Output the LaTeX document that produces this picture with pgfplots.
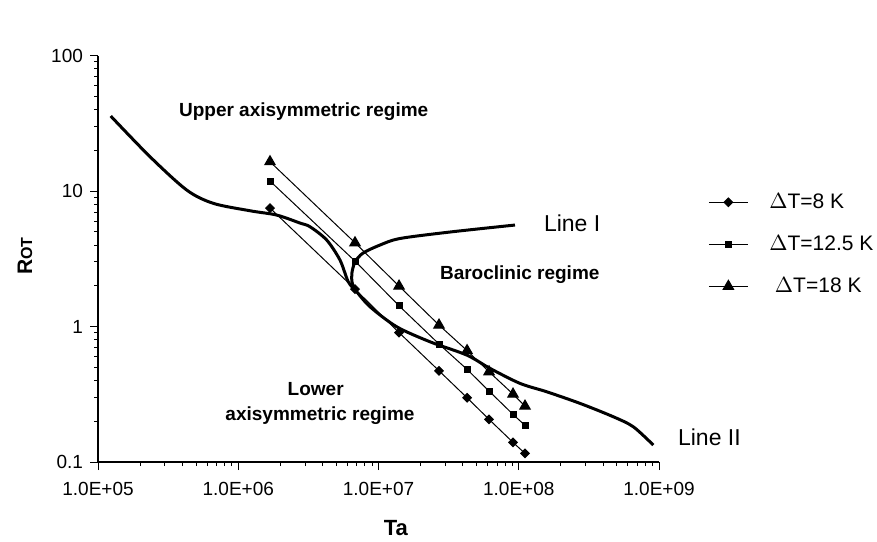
\documentclass[border=0pt]{standalone}
\usepackage{pgfplots}
\pgfplotsset{compat=1.18}
\usepackage{fontspec}
\setmainfont{Liberation Sans}
\begin{document}
\begin{tikzpicture}
\path[use as bounding box] (-49pt,-39.5pt) rectangle (389.5pt,231pt);
\begin{axis}[
 at={(0,0)}, anchor=south west,
 scale only axis, width=280.5pt, height=203.15pt,
 xmode=log, ymode=log,
 xmin=1e5, xmax=1e9, ymin=0.1, ymax=100,
 axis x line=bottom, axis y line=left,
 axis line style={-, line width=0.6pt, black},
 xtick={1e5,1e6,1e7,1e8,1e9},
 xticklabels={1.0E+05,1.0E+06,1.0E+07,1.0E+08,1.0E+09},
 ytick={0.1,1,10,100}, yticklabels={0.1,1,10,100},
 tick align=outside,
 major tick length=4pt, minor tick length=2pt,
 every tick/.style={black, line width=0.5pt},
 ticklabel style={font=\fontsize{9.5}{11}\selectfont},
 xticklabel style={yshift=-2.5pt},
 clip=false,
 legend style={at={(1.0873,0.5358)}, anchor=west, draw=none, fill=none,
   inner sep=0pt, font=\fontsize{10.5}{12}\selectfont, row sep=12pt,
   column sep=10.5pt, nodes={inner sep=0pt}},
 legend cell align=left,
 legend image code/.code={\draw[mark repeat=2,mark phase=2,#1] plot coordinates {(0pt,0pt) (9.75pt,0pt) (19.5pt,0pt)};},
]
% Line II (full curve)
\addplot[black, line width=1.5pt, smooth, no markers, forget plot] coordinates {
(1.232e5,35.86) (2.349e5,17.95) (4.290e5,10.19) (6.640e5,8.126) (1.213e6,7.164)
(1.880e6,6.659) (2.756e6,5.813) (3.249e6,5.459) (4.272e6,4.354) (5.314e6,3.098)
(6.089e6,2.142) (6.993e6,1.807) (8.698e6,1.400) (1.349e7,0.9966) (2.329e7,0.7722)
(4.256e7,0.6161) (6.237e7,0.4913) (1.021e8,0.3806) (1.582e8,0.3301) (2.734e8,0.2709)
(4.724e8,0.2158) (6.559e8,0.1820) (9.108e8,0.1333)};
% Line I (branch)
\addplot[black, line width=1.5pt, smooth, no markers, forget plot] coordinates {
(6.80e6,1.86) (6.48e6,2.12) (6.46e6,2.48) (6.80e6,3.00) (7.76e6,3.49)
(1.025e7,4.00) (1.423e7,4.47) (3.23e7,4.99) (9.40e7,5.62)};
% data series
\addplot[black, line width=0.5pt, mark=square*, mark size=1.52pt, mark options={rotate=45,solid,fill=black}] coordinates {
(1.684e6,7.50) (6.80e6,1.892) (1.401e7,0.903) (2.70e7,0.4717) (4.28e7,0.298)
(6.14e7,0.2064) (9.10e7,0.1396) (1.108e8,0.1157)};
\addlegendentry{$\Delta$T=8 K}
\addplot[black, line width=0.5pt, mark=square*, mark size=1.5pt, mark options={solid,fill=black}] coordinates {
(1.684e6,11.87) (6.80e6,3.045) (1.401e7,1.424) (2.70e7,0.743) (4.28e7,0.483)
(6.14e7,0.334) (9.10e7,0.2247) (1.108e8,0.1864)};
\addlegendentry{$\Delta$T=12.5 K}
\addplot[black, line width=0.5pt, mark=triangle*, mark size=3pt, mark options={solid,fill=black}] coordinates {
(1.684e6,16.49) (6.80e6,4.157) (1.401e7,1.991) (2.70e7,1.026) (4.28e7,0.665)
(6.14e7,0.4637) (9.10e7,0.3173) (1.108e8,0.2587)};
\addlegendentry{\hspace{2.8pt}$\Delta$T=18 K}
% annotations
\node[anchor=west, font=\bfseries\fontsize{9.5}{11}\selectfont] at (rel axis cs:0.1319,0.862) {Upper axisymmetric regime};
\node[anchor=west, font=\bfseries\fontsize{9.5}{11}\selectfont] at (rel axis cs:0.5971,0.4602) {Baroclinic regime};
\node[font=\bfseries\fontsize{9.5}{11}\selectfont] at (rel axis cs:0.388,0.1797) {Lower};
\node[font=\bfseries\fontsize{9.5}{11}\selectfont] at (rel axis cs:0.3957,0.1132) {axisymmetric regime};
\node[anchor=west, font=\fontsize{11.5}{13}\selectfont] at (rel axis cs:0.7825,0.5882) {Line I};
\node[anchor=west, font=\fontsize{11.5}{13}\selectfont] at (rel axis cs:1.0214,0.0608) {Line II};
\node[rotate=90, font=\bfseries\fontsize{10.5}{12}\selectfont] at (rel axis cs:-0.130,0.507) {R{\fontsize{8}{9}\selectfont OT}};
\node[font=\bfseries\fontsize{11}{13}\selectfont] at (rel axis cs:0.531,-0.162) {Ta};
\end{axis}
\end{tikzpicture}
\end{document}
